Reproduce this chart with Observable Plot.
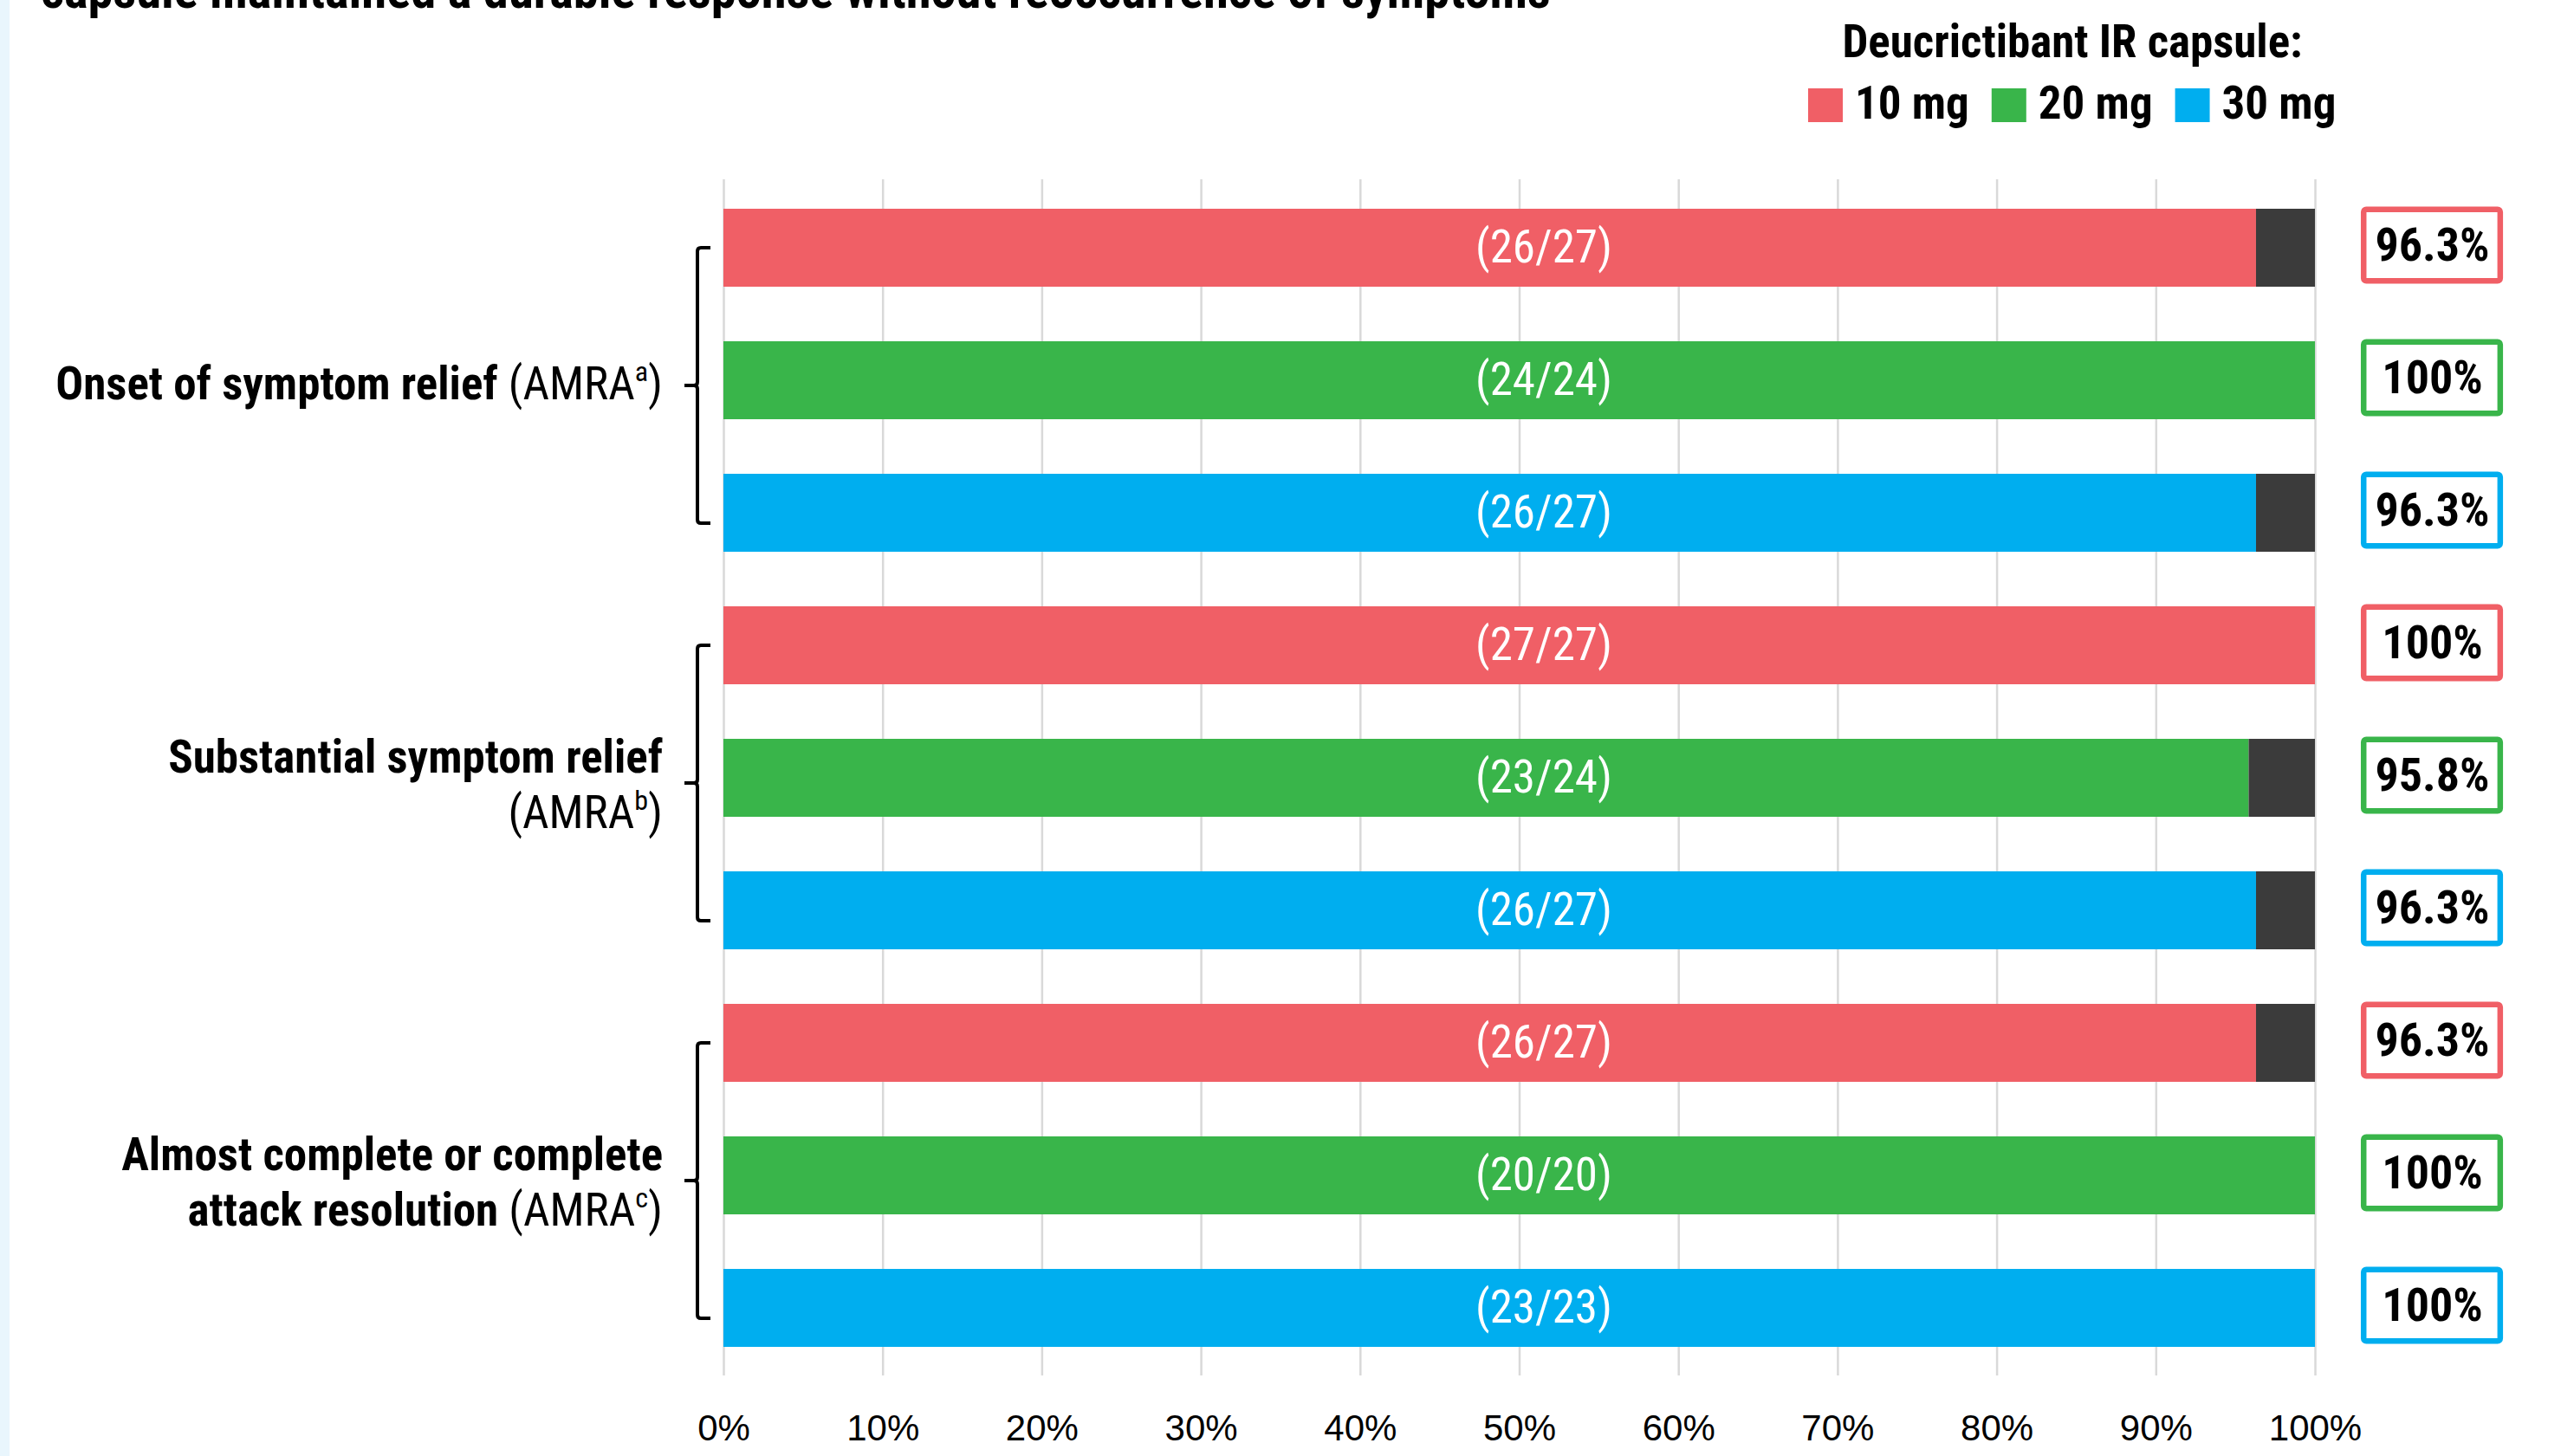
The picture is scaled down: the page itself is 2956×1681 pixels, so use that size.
<!DOCTYPE html>
<html><head><meta charset="utf-8">
<script src="https://cdn.jsdelivr.net/npm/d3@7"></script>
<script src="https://cdn.jsdelivr.net/npm/@observablehq/plot@0.6"></script>
<style>
html,body{margin:0;padding:0;background:#fff;overflow:hidden;}
#page{position:relative;width:2956px;height:1681px;background:#fff;}
#strip{position:absolute;left:0;top:0;width:11px;height:1681px;background:#E9F6FD;z-index:5;}
#header{display:block;}
#chart svg{display:block;}
</style></head><body>
<div id="page"><div id="strip"></div><svg id="header" width="2956" height="170"></svg><div id="chart"></div></div>
<script>
// ---------- data ----------
const titleText = "capsule maintained a durable response without reoccurrence of symptoms";
const legendTitle = "Deucrictibant IR capsule:";
const doses = ["10 mg", "20 mg", "30 mg"];
const doseColors = ["#F05F66", "#39B54A", "#00AEEF"];
const outcomeIds = ["onset", "substantial", "complete"];
const outcomeLines = [
  [[["Onset of symptom relief", "b"], [" (AMRA", "r"], ["a", "sup"], [")", "r"]]],
  [[["Substantial symptom relief", "b"]], [["(AMRA", "r"], ["b", "sup"], [")", "r"]]],
  [[["Almost complete or complete", "b"]], [["attack resolution", "b"], [" (AMRA", "r"], ["c", "sup"], [")", "r"]]]
];
const responders = [26, 24, 26, 27, 23, 26, 26, 20, 23];
const totals     = [27, 24, 27, 27, 24, 27, 27, 20, 23];
const pctLabels  = ["96.3%", "100%", "96.3%", "100%", "95.8%", "96.3%", "96.3%", "100%", "100%"];
const xTicks = [0, 10, 20, 30, 40, 50, 60, 70, 80, 90, 100];

// ---------- styles ----------
const FONT = "'Roboto Condensed','Liberation Sans Narrow','DejaVu Sans Condensed',Roboto,sans-serif";
const AXISFONT = "'Liberation Sans',Arial,sans-serif";
const DARK = "#3B3B3B";
const W = 2956, HEADER_H = 170, H = 1681 - HEADER_H;
const ML = 835, MR = 284, MT = 37, MB = 93;

const rows = responders.map((n, i) => ({
  key: `${outcomeIds[Math.floor(i / 3)]}|${doses[i % 3]}`,
  outcome: outcomeIds[Math.floor(i / 3)],
  dose: doses[i % 3],
  n, N: totals[i],
  pct: n / totals[i] * 100,
  label: pctLabels[i]
}));

// ---------- header (title + legend) ----------
const header = d3.select("#header");
header.append("text").attr("x", 47).attr("y", 9)
  .attr("font-family", FONT).attr("font-weight", 700).attr("font-size", 58.6)
  .attr("fill", "#000").text(titleText);
header.append("text").attr("x", 2392).attr("y", 66).attr("text-anchor", "middle")
  .attr("font-family", FONT).attr("font-weight", 700).attr("font-size", 53)
  .attr("fill", "#000").text(legendTitle);
let lx = 2087;
doses.forEach((d, i) => {
  header.append("rect").attr("x", lx).attr("y", 102).attr("width", 40).attr("height", 39).attr("fill", doseColors[i]);
  const t = header.append("text").attr("x", lx + 54).attr("y", 137)
    .attr("font-family", FONT).attr("font-weight", 700).attr("font-size", 53)
    .attr("fill", "#000").text(d);
  lx = lx + 54 + t.node().getComputedTextLength() + 26;
});

// ---------- chart ----------
const BOX_X1 = 103.06, BOX_X2 = 111.64, BOX_MID = 107.35;
const chart = Plot.plot({
  width: W, height: H,
  marginLeft: ML, marginRight: MR, marginTop: MT, marginBottom: MB,
  style: {background: "transparent", overflow: "visible", fontFamily: FONT},
  x: {domain: [0, 100], axis: null, label: null},
  y: {domain: rows.map(d => d.key), paddingInner: 0.413, paddingOuter: 0.2065, axis: null},
  color: {domain: doses, range: doseColors},
  marks: [
    Plot.ruleX(xTicks, {stroke: "#D9D9D9", strokeWidth: 2.5}),
    Plot.barX(rows, {y: "key", x1: 0, x2: "pct", fill: "dose"}),
    Plot.barX(rows.filter(d => d.pct < 100), {y: "key", x1: "pct", x2: 100, fill: DARK}),
    Plot.text(rows, {y: "key", x: 50, dx: 28, text: d => `(${d.n}/${d.N})`, fill: "white",
      fontSize: 53, fontFamily: FONT}),
    Plot.barX(rows, {y: "key", x1: BOX_X1, x2: BOX_X2, fill: "white", stroke: "dose",
      strokeWidth: 6.5, rx: 3, insetTop: 3.75, insetBottom: 3.75, dy: -3}),
    Plot.text(rows, {y: "key", x: BOX_MID, text: "label", fill: "black", fontWeight: 700,
      fontSize: 54, fontFamily: FONT, dy: -3}),
    Plot.axisX(xTicks, {tickSize: 0, tickPadding: 45, tickFormat: d => `${d}%`, label: null,
      fontSize: 42, fontFamily: AXISFONT, fill: "black"})
  ]
});
document.getElementById("chart").appendChild(chart);

// ---------- outcome labels and brackets (positioned with Plot's y scale) ----------
const ys = chart.scale("y");
const bw = ys.bandwidth;
const ann = d3.select(chart).append("g");
const xLine = ML - 30, xText = ML - 70;
outcomeIds.forEach((id, gi) => {
  const keys = rows.filter(r => r.outcome === id).map(r => r.key);
  const top = ys.apply(keys[0]) + bw / 2;
  const bottom = ys.apply(keys[keys.length - 1]) + bw / 2 + 12;
  const mid = (top + bottom) / 2;
  const r = 4;
  ann.append("path")
    .attr("d", `M${xLine + 15},${top} H${xLine + r} Q${xLine},${top} ${xLine},${top + r} V${mid - r} Q${xLine},${mid} ${xLine - r},${mid} H${xLine - 15} M${xLine - r},${mid} Q${xLine},${mid} ${xLine},${mid + r} V${bottom - r} Q${xLine},${bottom} ${xLine + r},${bottom} H${xLine + 15}`)
    .attr("fill", "none").attr("stroke", "#000").attr("stroke-width", 4);
  const lines = outcomeLines[gi];
  const n = lines.length;
  lines.forEach((parts, li) => {
    const base = mid + 16 + (li - (n - 1) / 2) * 64 + (n - 1) * 4;
    const t = ann.append("text").attr("x", xText).attr("y", base).attr("text-anchor", "end")
      .attr("font-family", FONT).attr("font-size", 53).attr("fill", "#000")
      .style("white-space", "pre");
    let raised = false;
    parts.forEach(([txt, kind]) => {
      const s = t.append("tspan").text(txt);
      if (kind === "b") s.attr("font-weight", 700);
      if (kind === "r") s.attr("font-weight", 400);
      if (kind === "sup") { s.attr("font-size", 32).attr("dy", -21); raised = true; }
      else if (raised) { s.attr("dy", 21); raised = false; }
    });
  });
});
</script>
</body></html>
